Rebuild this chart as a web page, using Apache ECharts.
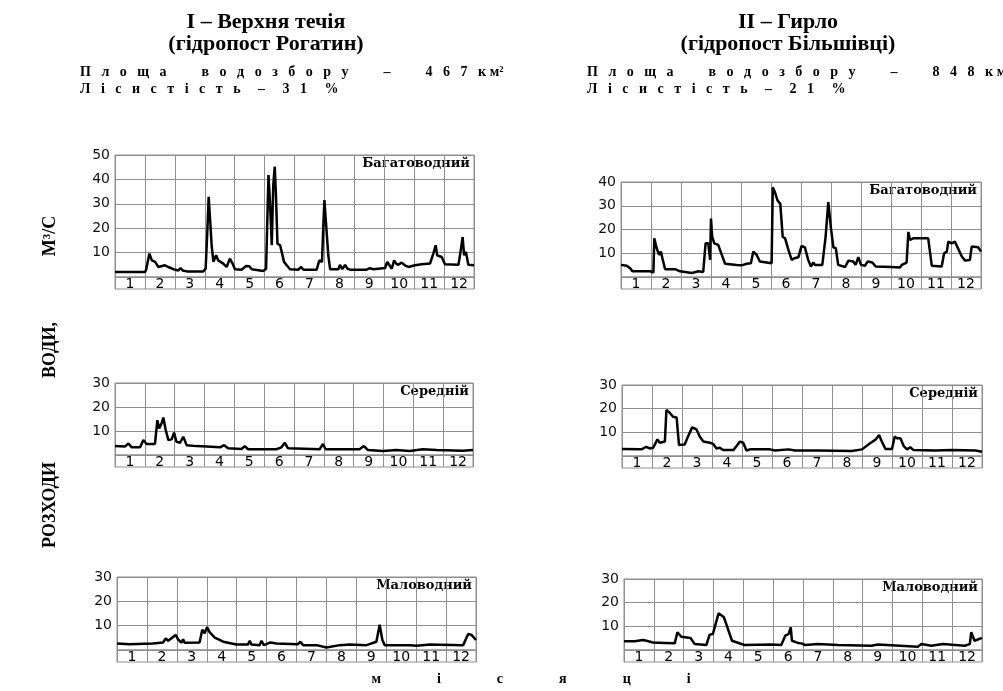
<!DOCTYPE html>
<html>
<head>
<meta charset="utf-8">
<script src="https://cdn.jsdelivr.net/npm/echarts@6/dist/echarts.min.js"></script>
<style>
  html, body { margin: 0; padding: 0; background: #fff; }
  #chart { width: 1003px; height: 691px; }
</style>
</head>
<body>
<div id="chart"></div>
<script>
'use strict'

// month labels under every hydrograph
const months = ['1', '2', '3', '4', '5', '6', '7', '8', '9', '10', '11', '12'];

// discharge, m3/s; x = position in the year in months (0..12)
const rogatinHigh = [[0,2.0],[1.0,2.0],[1.04,3.0],[1.15,9.6],[1.23,6.8],[1.28,7.5],[1.34,6.2],[1.45,4.1],[1.67,4.8],[1.78,4.1],[1.95,3.2],[2.12,2.7],[2.19,3.7],[2.26,2.7],[2.4,2.3],[2.95,2.3],[3.03,3.4],[3.09,19.9],[3.13,32.9],[3.18,23.3],[3.23,13.0],[3.29,6.2],[3.38,8.9],[3.45,6.8],[3.62,5.5],[3.73,4.1],[3.84,7.5],[3.93,5.5],[4.01,3.2],[4.23,3.0],[4.38,4.5],[4.49,4.4],[4.57,3.2],[4.96,2.5],[5.05,3.4],[5.13,41.8],[5.18,30.8],[5.24,13.0],[5.29,37.7],[5.34,45.2],[5.38,33.6],[5.43,13.7],[5.52,13.0],[5.57,12.3],[5.65,6.2],[5.74,4.8],[5.85,3.2],[6.13,3.0],[6.21,4.1],[6.30,3.0],[6.74,3.0],[6.83,6.8],[6.92,6.2],[6.96,19.9],[7.00,31.5],[7.05,22.6],[7.13,8.9],[7.19,3.2],[7.47,3.2],[7.52,5.0],[7.60,3.2],[7.69,5.0],[7.77,3.4],[7.86,3.0],[8.41,3.0],[8.52,3.6],[8.64,3.2],[9.03,3.7],[9.10,6.2],[9.19,4.5],[9.25,3.4],[9.33,6.8],[9.40,5.5],[9.47,5.0],[9.58,5.9],[9.69,4.8],[9.81,4.1],[10.03,4.8],[10.25,5.2],[10.53,5.5],[10.64,9.6],[10.72,13.0],[10.77,8.9],[10.92,8.2],[11.03,5.2],[11.48,5.0],[11.55,10.3],[11.62,16.4],[11.67,8.9],[11.73,10.3],[11.81,5.0],[12,4.8]];
const bilshivtsiHigh = [[0,5.1],[0.19,4.7],[0.30,3.75],[0.38,2.4],[0.97,2.4],[1.08,1.9],[1.11,16.3],[1.19,12.1],[1.27,9.3],[1.33,10.7],[1.38,7.9],[1.47,3.3],[1.80,3.3],[1.97,2.4],[2.36,1.7],[2.58,2.4],[2.74,2.1],[2.82,14.2],[2.91,14.2],[2.97,7.2],[3.00,24.6],[3.04,16.9],[3.11,14.2],[3.24,13.5],[3.36,9.3],[3.47,5.6],[3.86,5.1],[4.02,4.9],[4.19,5.6],[4.33,5.8],[4.41,10.7],[4.52,9.3],[4.63,6.5],[5.02,5.8],[5.06,37.8],[5.13,35.7],[5.22,32.2],[5.31,30.8],[5.39,16.9],[5.47,16.3],[5.58,11.4],[5.69,7.2],[5.78,7.9],[5.91,8.3],[6.02,13.1],[6.13,12.5],[6.24,7.2],[6.33,4.4],[6.41,6.1],[6.47,5.1],[6.71,5.1],[6.82,16.9],[6.91,31.5],[7.00,20.4],[7.08,12.5],[7.16,12.1],[7.24,5.1],[7.47,4.2],[7.58,6.9],[7.74,6.5],[7.82,5.1],[7.91,8.3],[8.00,5.1],[8.13,4.7],[8.22,6.5],[8.38,6.1],[8.49,4.4],[9.02,4.2],[9.30,4.0],[9.36,5.1],[9.52,6.1],[9.58,19.0],[9.63,15.6],[9.74,16.3],[10.24,16.3],[10.36,4.7],[10.69,4.4],[10.77,10.0],[10.86,10.7],[10.91,14.9],[11.02,14.2],[11.13,14.9],[11.36,8.6],[11.47,6.9],[11.63,7.2],[11.69,12.8],[11.91,12.5],[12,10.7]];
const rogatinMid = [[0,3.7],[0.33,3.5],[0.45,4.8],[0.56,3.2],[0.84,3.2],[0.95,6.2],[1.06,4.6],[1.34,4.6],[1.42,14.5],[1.48,11.1],[1.56,13.1],[1.62,15.6],[1.70,10.4],[1.79,6.2],[1.90,6.5],[1.98,9.3],[2.06,5.5],[2.18,5.1],[2.29,7.6],[2.40,4.1],[2.73,3.7],[3.07,3.5],[3.52,3.2],[3.66,4.1],[3.79,2.8],[4.24,2.5],[4.35,3.7],[4.46,2.4],[5.41,2.4],[5.58,3.2],[5.69,5.1],[5.80,2.8],[6.86,2.4],[6.97,4.6],[7.06,2.4],[8.20,2.4],[8.34,3.7],[8.48,2.1],[8.98,1.7],[9.43,2.1],[9.88,1.7],[10.32,2.4],[10.77,2.1],[11.66,1.8],[12,2.1]];
const bilshivtsiMid = [[0,3.0],[0.65,2.8],[0.81,3.9],[0.92,3.2],[1.04,3.5],[1.18,7.0],[1.26,5.6],[1.43,6.1],[1.48,19.4],[1.59,18.3],[1.70,16.6],[1.82,16.3],[1.90,4.6],[2.09,4.9],[2.20,8.2],[2.34,12.1],[2.48,11.3],[2.59,8.2],[2.71,6.1],[2.93,5.6],[3.04,5.1],[3.15,3.2],[3.26,3.5],[3.37,2.5],[3.71,2.5],[3.82,4.2],[3.93,6.1],[4.04,5.6],[4.15,2.3],[4.27,2.8],[4.93,2.8],[5.10,2.3],[5.55,2.8],[5.77,2.3],[6.55,2.3],[7.66,2.1],[8.00,2.8],[8.27,5.4],[8.44,6.8],[8.57,8.9],[8.66,6.1],[8.78,3.0],[9.00,3.0],[9.09,8.2],[9.16,7.5],[9.28,7.5],[9.39,4.2],[9.50,2.8],[9.61,3.7],[9.72,2.5],[10.45,2.3],[11.00,2.5],[11.78,2.3],[12,1.8]];
const rogatinLow = [[0,2.7],[0.42,2.4],[1.20,2.7],[1.54,3.1],[1.63,4.8],[1.71,3.8],[1.82,4.8],[1.96,6.2],[2.04,4.4],[2.15,3.0],[2.21,4.4],[2.26,3.0],[2.76,3.1],[2.85,8.3],[2.93,6.9],[3.01,9.4],[3.10,7.2],[3.27,5.1],[3.55,3.4],[3.99,2.3],[4.38,2.3],[4.44,3.8],[4.49,2.3],[4.77,2.0],[4.83,3.8],[4.91,2.0],[5.13,3.1],[5.33,2.7],[6.05,2.4],[6.13,3.4],[6.22,2.0],[6.67,2.0],[7.00,1.0],[7.45,2.0],[7.78,2.3],[8.34,2.0],[8.67,3.4],[8.78,10.4],[8.87,4.1],[8.95,2.0],[9.79,2.0],[10.01,1.7],[10.46,2.3],[11.57,2.0],[11.74,6.6],[11.85,6.2],[11.91,6.9],[12,4.1]];
const bilshivtsiLow = [[0,3.7],[0.36,3.7],[0.64,4.2],[0.75,3.9],[0.97,3.2],[1.36,3.0],[1.70,2.8],[1.79,7.5],[1.92,5.6],[2.23,5.1],[2.37,2.5],[2.76,2.1],[2.87,6.5],[2.98,6.8],[3.17,15.5],[3.35,13.8],[3.62,3.9],[4.04,2.1],[4.94,2.3],[5.27,2.1],[5.41,6.1],[5.52,6.8],[5.59,9.6],[5.63,3.9],[5.83,3.0],[5.94,2.8],[6.00,3.2],[6.08,2.1],[6.50,2.5],[7.17,2.1],[8.29,1.8],[8.51,2.3],[9.85,1.4],[9.97,2.5],[10.30,1.8],[10.69,2.5],[11.42,1.8],[11.59,2.5],[11.64,7.5],[11.75,3.9],[12,5.1]];

const yearTypes = ['Багатоводний', 'Середній', 'Маловодний'];

const panels = [
  { data: rogatinHigh,    type: yearTypes[0], max: 50, left: 115, top: 155, width: 359, height: 122 },
  { data: bilshivtsiHigh, type: yearTypes[0], max: 40, left: 621, top: 182, width: 360, height: 95 },
  { data: rogatinMid,     type: yearTypes[1], max: 30, left: 115, top: 383, width: 358, height: 72 },
  { data: bilshivtsiMid,  type: yearTypes[1], max: 30, left: 622, top: 385, width: 360, height: 71 },
  { data: rogatinLow,     type: yearTypes[2], max: 30, left: 117, top: 577, width: 359, height: 73 },
  { data: bilshivtsiLow,  type: yearTypes[2], max: 30, left: 624, top: 579, width: 358, height: 71 }
];
const stripHeight = 12;

const gridColor = '#8e8e8e';
const serif = '"Liberation Serif", "Times New Roman", serif';
const sans = '"DejaVu Sans", Verdana, sans-serif';

// letter-spaced text: en space + four-per-em space between letters
const gap = '\u2002\u2005';
function spaced(str, wordSep)
{
    return str.split(' ').map(w => Array.from(w).join(gap)).join(wordSep);
}

let grid = [], xAxis = [], yAxis = [], series = [], graphic = [];

panels.forEach((p, i) => {
    grid.push({
        left: p.left, top: p.top, width: p.width, height: p.height,
        show: true, borderColor: gridColor, borderWidth: 1
    });
    grid.push({
        left: p.left, top: p.top + p.height, width: p.width, height: stripHeight,
        show: true, borderColor: gridColor, borderWidth: 1
    });
    xAxis.push({
        type: 'value', gridIndex: 2 * i, min: 0, max: 12, interval: 1,
        axisLine: { show: false }, axisTick: { show: false }, axisLabel: { show: false },
        splitLine: { show: true, lineStyle: { color: gridColor, width: 1 } }
    });
    xAxis.push({
        type: 'category', gridIndex: 2 * i + 1, data: months, boundaryGap: true,
        axisLine: { show: false }, axisTick: { show: false },
        axisLabel: { inside: true, margin: -2, interval: 0, fontFamily: sans, fontSize: 14, color: '#000' },
        splitLine: { show: true, interval: 0, lineStyle: { color: gridColor, width: 1 } }
    });
    yAxis.push({
        type: 'value', gridIndex: 2 * i, min: 0, max: p.max, interval: 10,
        axisLine: { show: false }, axisTick: { show: false },
        axisLabel: { margin: 5, fontFamily: sans, fontSize: 14, color: '#111',
                     formatter: v => v === 0 ? '' : String(v) },
        splitLine: { show: true, lineStyle: { color: gridColor, width: 1 } }
    });
    yAxis.push({ type: 'value', gridIndex: 2 * i + 1, show: false });
    series.push({
        type: 'line', xAxisIndex: 2 * i, yAxisIndex: 2 * i, data: p.data,
        showSymbol: false, silent: true, animation: false,
        lineStyle: { color: '#000', width: 2.5 }
    });
    graphic.push({
        type: 'text', x: p.left + p.width - 4, y: p.top + 2,
        style: { text: p.type, font: 'bold 13px "DejaVu Serif", serif', fill: '#000',
                 textAlign: 'right', textVerticalAlign: 'top' }
    });
});

const heads = [
    { cx: 266, x0: 80,  title: 'I – Верхня течія', post: '(гідропост Рогатин)',   area: 'Площа водозбору – 467', forest: 'Лісистість – 31 %' },
    { cx: 788, x0: 587, title: 'II – Гирло',       post: '(гідропост Більшівці)', area: 'Площа водозбору – 848', forest: 'Лісистість – 21 %' }
];
heads.forEach(h => {
    graphic.push({ type: 'text', x: h.cx, y: 22,
        style: { text: h.title, font: 'bold 22px ' + serif, fill: '#000', textAlign: 'center', textVerticalAlign: 'middle' } });
    graphic.push({ type: 'text', x: h.cx, y: 44,
        style: { text: h.post, font: 'bold 22px ' + serif, fill: '#000', textAlign: 'center', textVerticalAlign: 'middle' } });
    graphic.push({ type: 'text', x: h.x0, y: 72,
        style: { text: spaced(h.area, gap + '    ' + gap) + gap + 'к м²', font: 'bold 14px ' + serif, fill: '#000',
                 textAlign: 'left', textVerticalAlign: 'middle' } });
    graphic.push({ type: 'text', x: h.x0, y: 89,
        style: { text: spaced(h.forest, gap + '  '), font: 'bold 14px ' + serif, fill: '#000',
                 textAlign: 'left', textVerticalAlign: 'middle' } });
});

// vertical axis caption
[['РОЗХОДИ', 505], ['ВОДИ,', 350], ['М³/С', 236]].forEach(t => {
    graphic.push({ type: 'text', x: 50, y: t[1], rotation: Math.PI / 2,
        style: { text: t[0], font: 'bold 18px ' + serif, fill: '#000', textAlign: 'center', textVerticalAlign: 'middle' } });
});

// horizontal caption
graphic.push({ type: 'text', x: 531, y: 679,
    style: { text: Array.from('місяці').join('\u2003'.repeat(4)), font: 'bold 14px ' + serif, fill: '#000',
             textAlign: 'center', textVerticalAlign: 'middle' } });

const chart = echarts.init(document.getElementById('chart'));
chart.setOption({
    backgroundColor: '#fff',
    animation: false,
    grid: grid,
    xAxis: xAxis,
    yAxis: yAxis,
    series: series,
    graphic: graphic
});
</script>
</body>
</html>
